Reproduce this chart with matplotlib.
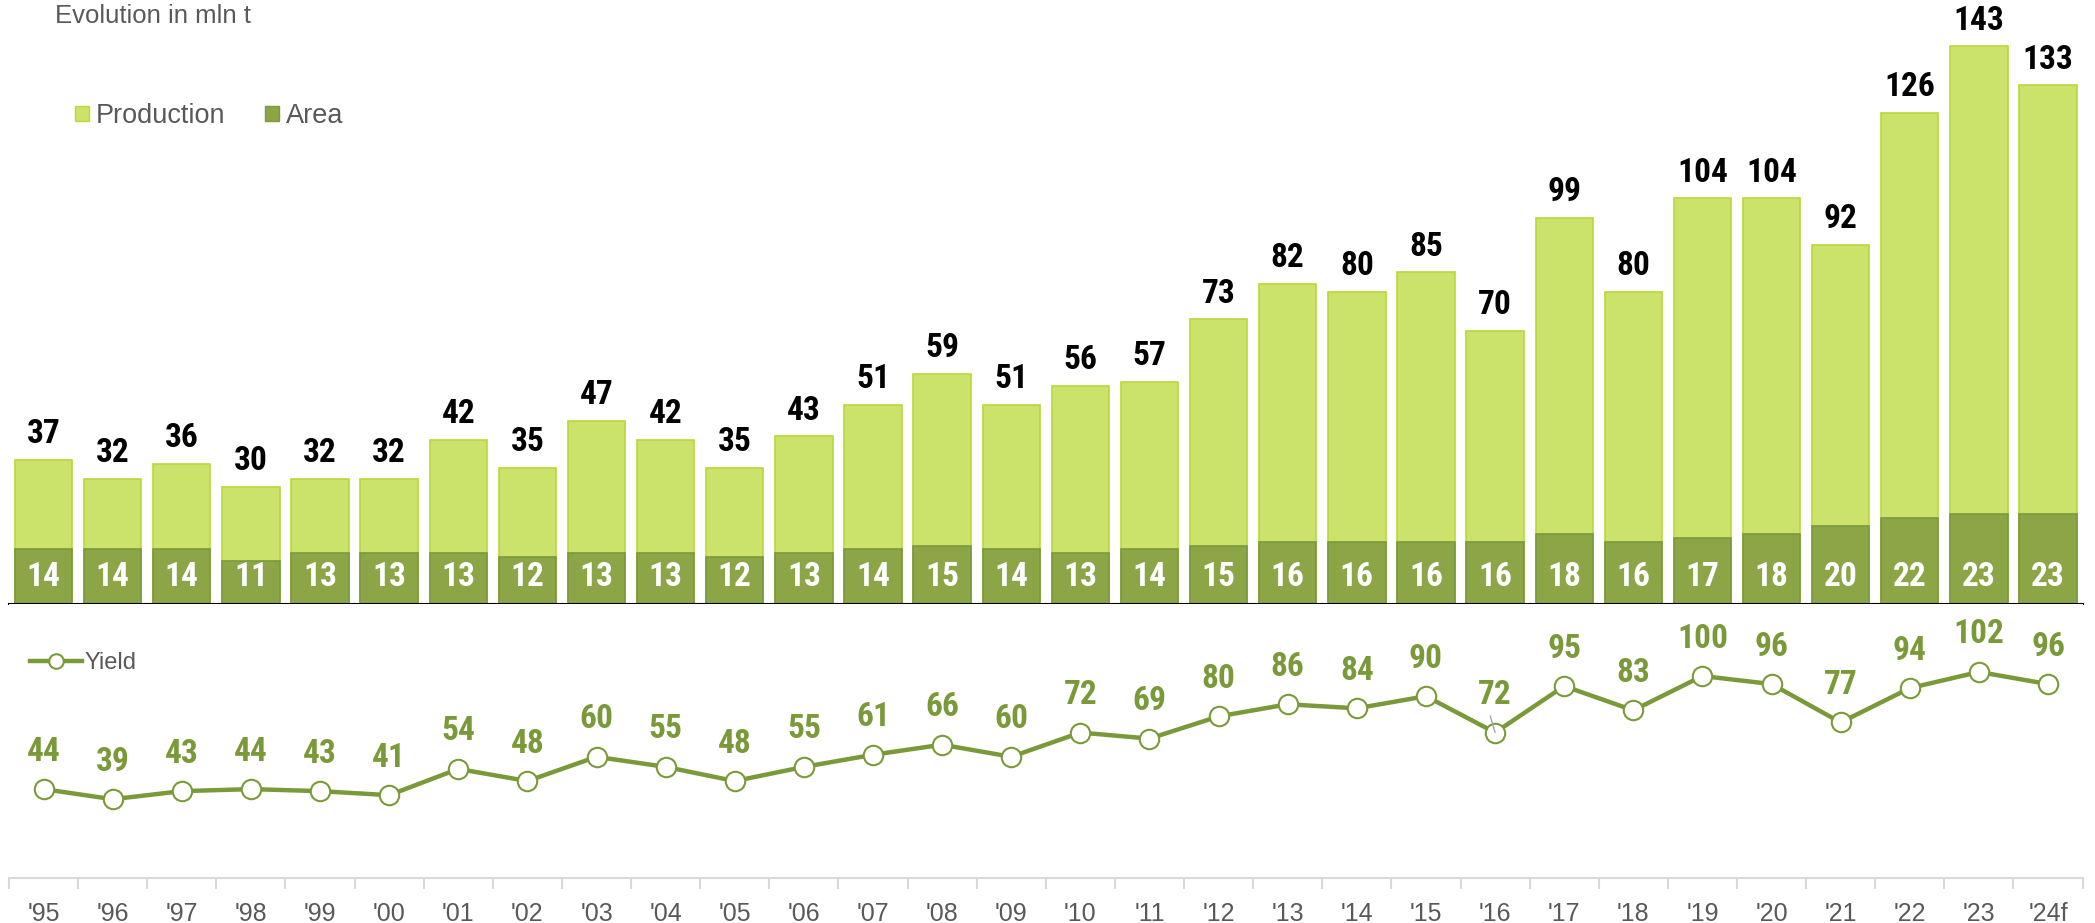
import matplotlib
matplotlib.use("Agg")
import matplotlib.pyplot as plt
from matplotlib.patches import Patch
import numpy as np
import logging
logging.getLogger("matplotlib.font_manager").setLevel(logging.ERROR)

years = ["'95", "'96", "'97", "'98", "'99", "'00", "'01", "'02", "'03", "'04",
         "'05", "'06", "'07", "'08", "'09", "'10", "'11", "'12", "'13", "'14",
         "'15", "'16", "'17", "'18", "'19", "'20", "'21", "'22", "'23", "'24f"]
production = [37, 32, 36, 30, 32, 32, 42, 35, 47, 42, 35, 43, 51, 59, 51, 56, 57,
              73, 82, 80, 85, 70, 99, 80, 104, 104, 92, 126, 143, 133]
area = [14, 14, 14, 11, 13, 13, 13, 12, 13, 13, 12, 13, 14, 15, 14, 13, 14,
        15, 16, 16, 16, 16, 18, 16, 17, 18, 20, 22, 23, 23]
yield_ = [44, 39, 43, 44, 43, 41, 54, 48, 60, 55, 48, 55, 61, 66, 60, 72, 69,
          80, 86, 84, 90, 72, 95, 83, 100, 96, 77, 94, 102, 96]

PROD_C = "#CBE36A"
PROD_E = "#B9D83A"
AREA_C = "#8BA547"
AREA_E = "#7A9A3C"
YIELD_C = "#7A9A3A"
GRAY = "#595959"
NARROW = ["Roboto Condensed", "Archivo Narrow", "PT Sans Narrow",
          "IBM Plex Sans Condensed", "DejaVu Sans"]
REG = ["Liberation Sans", "DejaVu Sans"]
LBL = 24

W, H = 2095, 923
fig = plt.figure(figsize=(W / 100, H / 100), dpi=100)

left = 9 / W
width = 2073.6 / W
base_top = 604
base_bot = 878
ax1 = fig.add_axes([left, 1 - base_top / H, width, base_top / H])
ax2 = fig.add_axes([left, 1 - base_bot / H, width, (base_bot - base_top) / H])

x = np.arange(len(years))
bw = 0.83

# --- top: stacked bars
ax1.bar(x, production, width=bw, color=PROD_C, edgecolor=PROD_E, linewidth=1.2, zorder=2)
ax1.bar(x, area, width=bw, color=AREA_C, edgecolor=AREA_E, linewidth=1.2, zorder=3)
ax1.set_xlim(-0.5, len(years) - 0.5)
ax1.set_ylim(0, base_top / 3.9)
for s in ["top", "right", "left"]:
    ax1.spines[s].set_visible(False)
ax1.spines["bottom"].set_color("black")
ax1.spines["bottom"].set_linewidth(1.5)
ax1.spines["bottom"].set_zorder(5)
ax1.set_xticks([])
ax1.set_yticks([])

for xi, p in zip(x, production):
    ax1.annotate(str(p), (xi, p), xytext=(0, 7), textcoords="offset points",
                 ha="center", va="bottom", fontsize=LBL, fontweight="bold",
                 family=NARROW, color="black")
for xi, a in zip(x, area):
    ax1.annotate(str(a), (xi, 0), xytext=(0, 19.5), textcoords="offset points",
                 ha="center", va="center", fontsize=LBL, fontweight="bold",
                 family=NARROW, color="white", zorder=6)

leg1 = ax1.legend(handles=[Patch(facecolor=PROD_C, edgecolor=PROD_E, label="Production"),
                           Patch(facecolor=AREA_C, edgecolor=AREA_E, label="Area")],
                  loc="center left", bbox_to_anchor=(75 / W, 1 - 116 / H),
                  bbox_transform=fig.transFigure, ncol=2, frameon=False,
                  prop={"family": REG, "size": 19.5}, handlelength=0.52,
                  handleheight=0.52, handletextpad=0.25, columnspacing=1.45,
                  borderaxespad=0, borderpad=0)
for t in leg1.get_texts():
    t.set_color(GRAY)

fig.text(55 / W, 1 - 16 / H, "Evolution in mln t", fontsize=18.5, family=REG,
         color=GRAY, ha="left", va="center")

# --- bottom: yield line
ax2.plot(x, yield_, color=YIELD_C, linewidth=3.2, marker="o", markersize=14,
         markerfacecolor="white", markeredgecolor=YIELD_C, markeredgewidth=1.5,
         zorder=3, label="Yield")
ax2.set_xlim(-0.5, len(years) - 0.5)
ax2.set_ylim(0, (base_bot - base_top) / 2.02)
for s in ["top", "right", "left"]:
    ax2.spines[s].set_visible(False)
ax2.spines["bottom"].set_color("#D9D9D9")
ax2.spines["bottom"].set_linewidth(1.5)
ax2.set_yticks([])
ax2.set_xticks(x)
ax2.set_xticklabels(years)
ax2.tick_params(axis="x", which="major", length=0, pad=17, labelsize=18, labelcolor=GRAY)
ax2.set_xticks(np.arange(-0.5, len(years)), minor=True)
ax2.tick_params(axis="x", which="minor", length=8, width=1.5, color="#D9D9D9")
for t in ax2.get_xticklabels():
    t.set_family(REG)

for xi, yv in zip(x, yield_):
    ax2.annotate(str(yv), (xi, yv), xytext=(0, 27), textcoords="offset points",
                 ha="center", va="center", fontsize=LBL, fontweight="bold",
                 family=NARROW, color=YIELD_C)
# small leader line for '16
i16 = years.index("'16")
ax2.annotate("", (i16, yield_[i16]), xytext=(-3.5, 12), textcoords="offset points",
             xycoords="data", arrowprops=dict(arrowstyle="-", color="#A6A6A6", lw=1.0,
                                              shrinkA=0, shrinkB=0), zorder=4)

leg2 = ax2.legend(loc="center left", bbox_to_anchor=(30 / W, 1 - 663 / H),
                  bbox_transform=fig.transFigure, frameon=False,
                  prop={"family": REG, "size": 17}, handlelength=2.2,
                  handletextpad=0.1, borderaxespad=0, borderpad=0, markerscale=0.75)
for t in leg2.get_texts():
    t.set_color(GRAY)

fig.savefig("out.png", dpi=100)
